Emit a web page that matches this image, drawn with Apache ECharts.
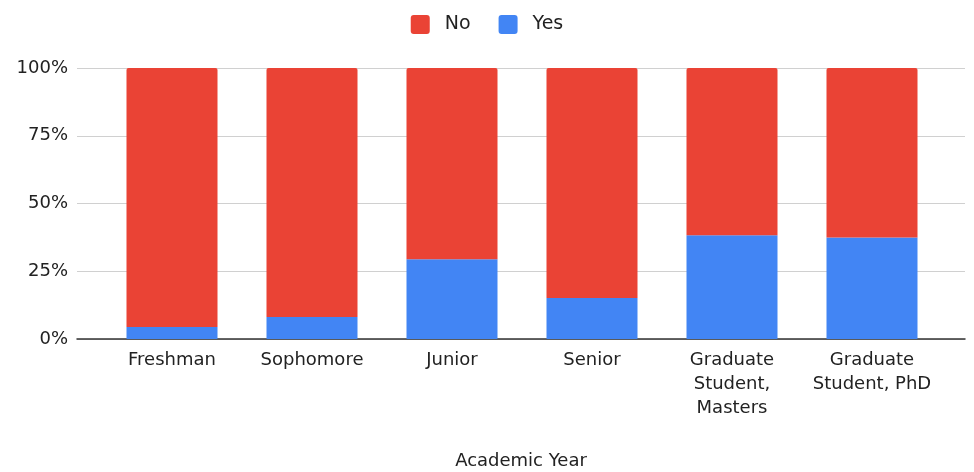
<!DOCTYPE html>
<html>
<head>
<meta charset="utf-8">
<script src="https://cdn.jsdelivr.net/npm/echarts@6/dist/echarts.min.js"></script>
<style>
  html, body { margin: 0; padding: 0; background: #fff; }
  #chart { width: 974px; height: 472px; }
</style>
</head>
<body>
<div id="chart"></div>
<script>
'use strict';

// categories (wrapped as in the original labels)
var categories = ['Freshman', 'Sophomore', 'Junior', 'Senior',
  'Graduate\nStudent,\nMasters', 'Graduate\nStudent, PhD'];
// percent of each year answering
var noPct  = [95.6, 91.9, 70.6, 84.9, 61.7, 62.5];
var yesPct = [4.4, 8.1, 29.4, 15.1, 38.3, 37.5];
var yTicks = [0, 25, 50, 75, 100];

var font = 'DejaVu Sans';
var textCol = '#222';
var boxIcon = 'path://M3,0H16A3,3 0 0 1 19,3V16A3,3 0 0 1 16,19H3A3,3 0 0 1 0,16V3A3,3 0 0 1 3,0Z';

var myChart = echarts.init(document.getElementById('chart'));
var option = {
  animation: false,
  textStyle: { fontFamily: font },
  legend: {
    top: 10, left: 'center',
    data: ['No', 'Yes'],
    icon: boxIcon, itemWidth: 19, itemHeight: 19, itemGap: 28,
    textStyle: { fontFamily: font, fontSize: 19, color: textCol, padding: [0, 0, 0, 10] }
  },
  grid: [
    { left: 77, right: 9, top: 68, bottom: 133, outerBoundsMode: 'none' },   // gridlines + y labels
    { left: 102, right: 32, top: 68, bottom: 133, outerBoundsMode: 'none' }  // bars
  ],
  xAxis: [
    {
      gridIndex: 0, type: 'category', data: categories,
      axisLabel: { show: false }, axisTick: { show: false },
      axisLine: { lineStyle: { color: '#333', width: 1.5 } },
      name: 'Academic Year', nameLocation: 'middle', nameGap: 113,
      nameTextStyle: { fontFamily: font, fontSize: 18, color: textCol }
    },
    {
      gridIndex: 1, type: 'category', data: categories,
      axisLine: { show: false }, axisTick: { show: false },
      axisLabel: { interval: 0, margin: 9, fontFamily: font, fontSize: 18,
        color: textCol, lineHeight: 24, align: 'center' }
    }
  ],
  yAxis: [
    {
      gridIndex: 0, type: 'value', min: yTicks[0], max: yTicks[yTicks.length - 1], interval: 25,
      axisLabel: { formatter: '{value}%', margin: 9, fontFamily: font, fontSize: 18, color: textCol },
      splitLine: { lineStyle: { color: '#d0d0d0' } },
      axisLine: { show: false }, axisTick: { show: false }
    },
    {
      gridIndex: 1, type: 'value', min: 0, max: 100, show: false,
      splitLine: { show: false }
    }
  ],
  series: [
    {
      name: 'Yes', type: 'bar', stack: 'total', xAxisIndex: 1, yAxisIndex: 1,
      data: yesPct, barWidth: 91, itemStyle: { color: '#4285F4' }
    },
    {
      name: 'No', type: 'bar', stack: 'total', xAxisIndex: 1, yAxisIndex: 1,
      data: noPct, barWidth: 91, itemStyle: { color: '#EA4335', borderRadius: [2, 2, 0, 0] }
    }
  ]
};
myChart.setOption(option);
</script>
</body>
</html>
